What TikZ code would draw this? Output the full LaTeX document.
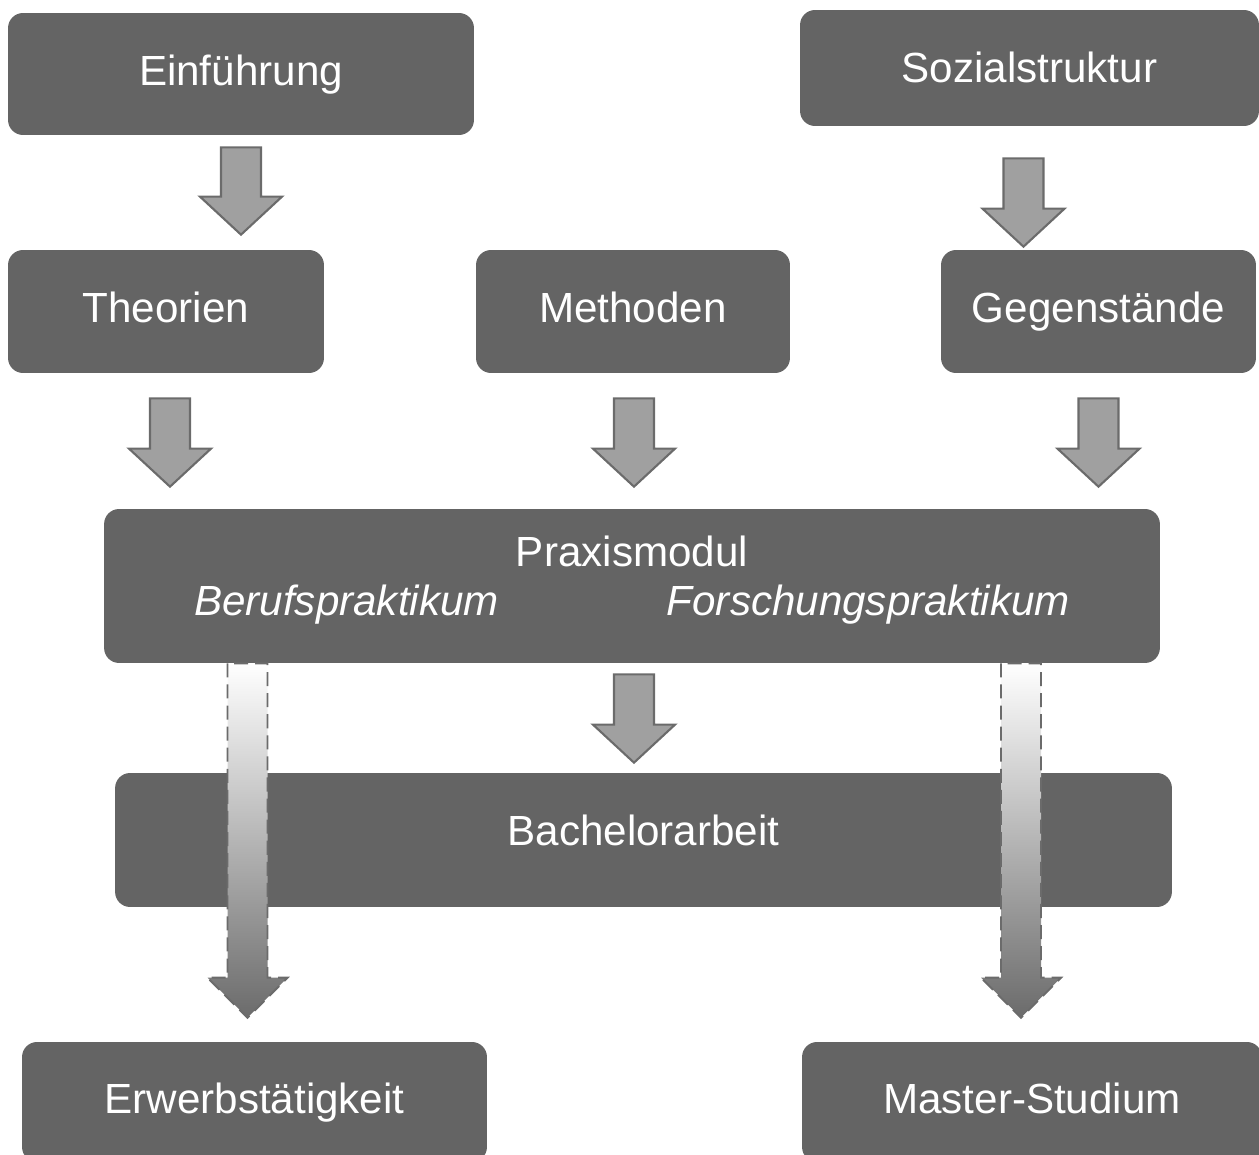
\documentclass[tikz,border=0pt]{standalone}
\usepackage{fontspec}
\setmainfont{Liberation Sans}
\usetikzlibrary{calc,positioning}

\definecolor{boxgray}{HTML}{646464}
\definecolor{arrowfill}{HTML}{A0A0A0}
\definecolor{arrowline}{HTML}{6B6B6B}

\tikzset{
  modul/.style={fill=boxgray, rounded corners=0.3cm, text=white, inner sep=0pt,
    align=center, font=\fontsize{24}{28}\selectfont},
  modul1/.style={modul, text height=18pt, text depth=5pt},
  blockarrow/.style={fill=arrowfill, draw=arrowline, line width=1.2pt},
  fadearrow/.style={top color=white, bottom color=arrowline, draw=arrowline,
    line width=1.1pt, dash pattern=on 8pt off 4pt}
}

% block arrow between two named coordinates (shaft top, tip)
\newcommand{\blockarr}[2]{%
  \draw[blockarrow] ($(#1)+(-20,0)$) -- ($(#2)+(-20,-38)$) -- ($(#2)+(-41,-38)$)
    -- (#2) -- ($(#2)+(41,-38)$) -- ($(#2)+(20,-38)$) -- ($(#1)+(20,0)$) -- cycle;}
\newcommand{\fadearr}[2]{%
  \draw[fadearrow] ($(#1)+(-20,0)$) -- ($(#2)+(-20,-40)$) -- ($(#2)+(-40,-40)$)
    -- (#2) -- ($(#2)+(40,-40)$) -- ($(#2)+(20,-40)$) -- ($(#1)+(20,0)$) -- cycle;}

\begin{document}
\begin{tikzpicture}[x=0.02cm, y=-0.02cm]
    \useasboundingbox (0,0) rectangle (1259,1155);
    \clip (0,0) rectangle (1259,1155);

    \node[modul1, minimum width=9.32cm, minimum height=2.44cm] at (241,74)(einf){Einführung};
    \node[modul1, text depth=2pt, minimum width=9.18cm, minimum height=2.32cm] at (1029.5,68)(sozial){Sozialstruktur};
    \node[modul1, minimum width=6.32cm, minimum height=2.46cm] at (166,311.5)(theo){Theorien};
    \node[modul1, minimum width=6.28cm, minimum height=2.46cm] at (633,311.5)(meth){Methoden};
    \node[modul1, minimum width=6.30cm, minimum height=2.46cm] at (1098.5,311.5)(gegen){Gegenstände};
    \node[modul, minimum width=21.12cm, minimum height=3.08cm] at (632,586)(praxis)
        {Praxismodul\\ \textit{Berufspraktikum}\hspace{3.36cm}\textit{Forschungspraktikum}\rule[-12pt]{0pt}{0pt}};
    \node[modul1, text depth=12pt, minimum width=21.14cm, minimum height=2.68cm] at (643.5,840)(bach){Bachelorarbeit};
    \node[modul1, minimum width=9.30cm, minimum height=2.40cm] at (254.5,1102)(erwerb){Erwerbstätigkeit};
    \node[modul1, minimum width=9.20cm, minimum height=2.40cm] at (1032,1102)(master){Master-Studium};

    % block arrows
    \coordinate (a1) at ($(einf.south)+(0,12)$);
    \coordinate (a1tip) at ($(a1 |- theo.north)+(0,-15)$);
    \coordinate (a2) at ($(sozial.south)+(-6,32)$);
    \coordinate (a2tip) at ($(a2 |- gegen.north)+(0,-3)$);
    \coordinate (a3) at ($(theo.south)+(4,25)$);
    \coordinate (a3tip) at ($(a3 |- praxis.north)+(0,-22)$);
    \coordinate (a4) at ($(meth.south)+(1,25)$);
    \coordinate (a4tip) at ($(a4 |- praxis.north)+(0,-22)$);
    \coordinate (a5) at ($(gegen.south)+(0,25)$);
    \coordinate (a5tip) at ($(a5 |- praxis.north)+(0,-22)$);
    \coordinate (a6) at ($(praxis.south)+(2,11)$);
    \coordinate (a6tip) at ($(a6 |- bach.north)+(0,-10)$);
    \blockarr{a1}{a1tip}
    \blockarr{a2}{a2tip}
    \blockarr{a3}{a3tip}
    \blockarr{a4}{a4tip}
    \blockarr{a5}{a5tip}
    \blockarr{a6}{a6tip}

    % shaded arrows out of the Praxismodul
    \coordinate (beruf) at (praxis.south -| 247.5,0);
    \coordinate (berufend) at ($(beruf |- erwerb.north)+(0,-24)$);
    \coordinate (forsch) at (praxis.south -| 1021,0);
    \coordinate (forschend) at ($(forsch |- master.north)+(0,-24)$);
    \fadearr{beruf}{berufend}
    \fadearr{forsch}{forschend}
\end{tikzpicture}
\end{document}
